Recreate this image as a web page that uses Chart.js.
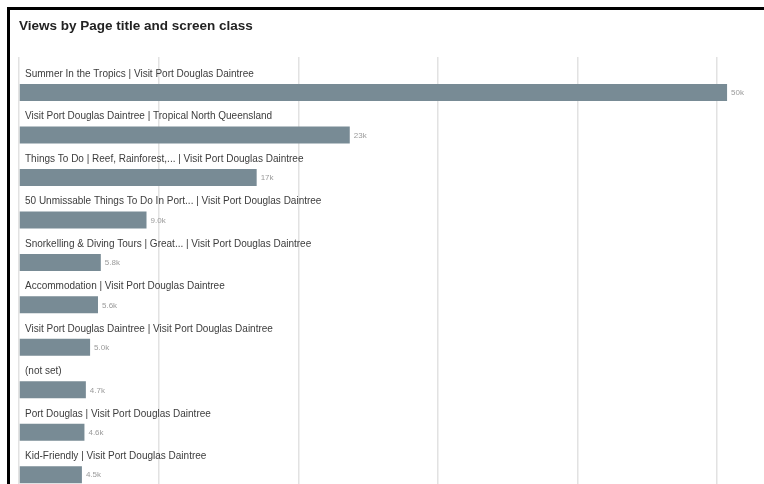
<!DOCTYPE html>
<html>
<head>
<meta charset="utf-8">
<script src="https://cdn.jsdelivr.net/npm/chart.js@4/dist/chart.umd.min.js"></script>
<style>
  html, body {
    margin: 0;
    padding: 0;
    background: #fff;
    overflow: hidden;
  }
  #wrap {
    position: relative;
    width: 764px;
    height: 484px;
    overflow: hidden;
  }
  #frame {
    position: absolute;
    left: 7px;
    top: 7px;
    width: 800px;
    height: 520px;
    border-top: 3px solid #000;
    border-left: 3px solid #000;
    pointer-events: none;
  }
  #views-chart {
    position: absolute;
    left: 0;
    top: 0;
  }
</style>
</head>
<body>
<div id="wrap">
  <canvas id="views-chart" width="764" height="504"></canvas>
  <div id="frame"></div>
</div>

<script>
const pageTitles = [
  "Summer In the Tropics | Visit Port Douglas Daintree",
  "Visit Port Douglas Daintree | Tropical North Queensland",
  "Things To Do | Reef, Rainforest,... | Visit Port Douglas Daintree",
  "50 Unmissable Things To Do In Port... | Visit Port Douglas Daintree",
  "Snorkelling & Diving Tours | Great... | Visit Port Douglas Daintree",
  "Accommodation | Visit Port Douglas Daintree",
  "Visit Port Douglas Daintree | Visit Port Douglas Daintree",
  "(not set)",
  "Port Douglas | Visit Port Douglas Daintree",
  "Kid-Friendly | Visit Port Douglas Daintree"
];

const views = [50200, 23450, 16850, 9040, 5800, 5600, 5040, 4740, 4640, 4460];

// unlabelled vertical gridlines behind the bars
const gridValues = [0, 9900, 19800, 29700, 39600, 49500];

function shortNumber(value) {
  if (value >= 10000) {
    return Math.round(value / 1000) + "k";
  }
  return (value / 1000).toFixed(1) + "k";
}

// draws the page title above each bar and the value after it
const barLabels = {
  id: "barLabels",
  afterDatasetsDraw(chart) {
    const ctx = chart.ctx;
    const meta = chart.getDatasetMeta(0);
    const area = chart.chartArea;

    ctx.save();
    ctx.textBaseline = "middle";

    meta.data.forEach(function(bar, i) {
      ctx.fillStyle = "#3c3c3c";
      ctx.font = "10px 'Liberation Sans', Arial, sans-serif";
      ctx.fillText(chart.data.labels[i], area.left + 6, bar.y - 18.5);

      ctx.fillStyle = "#9a9a9a";
      ctx.font = "8px 'Liberation Sans', Arial, sans-serif";
      ctx.fillText(shortNumber(views[i]), bar.x + 4, bar.y + 0.5);
    });

    ctx.restore();
  }
};

const ctx = document.getElementById("views-chart");

new Chart(ctx, {
  type: "bar",

  data: {
    labels: pageTitles,
    datasets: [
      {
        label: "Views",
        data: views,
        backgroundColor: "#788b95",
        barPercentage: 0.4,
        categoryPercentage: 1
      }
    ]
  },

  options: {
    indexAxis: "y",
    responsive: false,
    animation: false,
    events: [],

    layout: {
      padding: {
        left: 19,
        right: 20,
        top: 0,
        bottom: 8
      }
    },

    plugins: {
      legend: {
        display: false
      },
      tooltip: {
        enabled: false
      },
      title: {
        display: true,
        text: "Views by Page title and screen class",
        align: "start",
        color: "#222",
        font: {
          family: "'Liberation Sans', Arial, sans-serif",
          size: 13.5,
          weight: "bold"
        },
        padding: {
          top: 18.5,
          bottom: 22.3
        }
      }
    },

    scales: {
      x: {
        position: "top",
        min: 0,
        max: 51400,
        afterBuildTicks: function(scale) {
          scale.ticks = gridValues.map(function(v) {
            return { value: v };
          });
        },
        ticks: {
          display: false
        },
        grid: {
          color: "#e2e2e2",
          lineWidth: 1.5,
          drawTicks: true,
          tickLength: 14.25
        },
        border: {
          display: false
        }
      },
      y: {
        display: false,
        offset: true
      }
    }
  },

  plugins: [barLabels]
});
</script>
</body>
</html>
